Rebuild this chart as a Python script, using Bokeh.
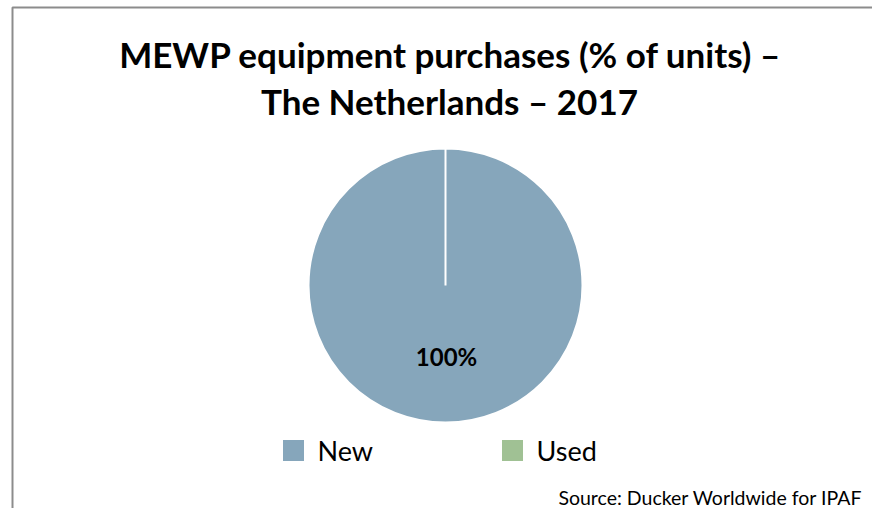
import math
from bokeh.plotting import figure
from bokeh.models import Range1d, ColumnDataSource
from bokeh.core.properties import value
from bokeh.embed import file_html
from bokeh.resources import INLINE

# ---- data ----
categories = ["New", "Used"]
shares = [100, 0]
colors = ["#86A6BB", "#A0C194"]
title_lines = ["MEWP equipment purchases (% of units) \u2013", "The Netherlands \u2013 2017"]
source_note = "Source: Ducker Worldwide for IPAF"

FONT = "Lato"
W, H = 872, 508
TWO_PI = 2 * math.pi

def Y(page_y):
    # convert page pixel y (from top of window) to data y
    return H - page_y

p = figure(width=W, height=H, x_range=Range1d(0, W), y_range=Range1d(0, H),
           output_backend="svg", toolbar_location=None, min_border=0,
           background_fill_color="white", border_fill_color="white")
p.axis.visible = False
p.grid.visible = False
p.outline_line_color = None

# frame (chart area border, cropped at right/bottom)
p.line(x=[12, 12, 880], y=[Y(520), Y(7), Y(7)], line_color="#8C8C8C", line_width=2)

# pie
cx, cy, r = 445, Y(285), 137
total = sum(shares)
starts, ends = [], []
acc = 0
for s in shares:
    a0 = math.pi / 2 - TWO_PI * acc / total
    a1 = a0 - TWO_PI * s / total
    starts.append(a0 % TWO_PI)
    ends.append(a1 % TWO_PI)
    acc += s
keep = [i for i, s in enumerate(shares) if s > 0]
src = ColumnDataSource(dict(cat=[categories[i] for i in keep],
                            color=[colors[i] for i in keep],
                            start=[starts[i] for i in keep],
                            end=[ends[i] for i in keep],
                            x=[cx] * len(keep), y=[cy] * len(keep)))
p.wedge(x="x", y="y", radius=r, start_angle="start", end_angle="end",
        direction="clock", fill_color="color", line_color="white", line_width=2,
        source=src)

# data label (only non-zero slices)
acc = 0
for s in shares:
    if s > 0:
        mid = math.pi / 2 - TWO_PI * (acc + s / 2) / total
        lx = cx + 0.52 * r * math.cos(mid)
        ly = cy + 0.52 * r * math.sin(mid)
        p.text(x=[lx + 1], y=[ly], text=[f"{s}%"], text_font=value(FONT),
               text_font_style="bold", text_font_size="24px",
               text_align="center", text_baseline="middle", text_color="black")
    acc += s

# title
p.text(x=[450, 449], y=[Y(53), Y(100)], text=title_lines, text_font=value(FONT),
       text_font_style="bold", text_font_size="35px", text_align="center",
       text_baseline="middle", text_color="black")

# legend
lx0, lstep, ly = 293, 219, Y(450)
leg_x = [lx0 + i * lstep for i in range(len(categories))]
p.rect(x=leg_x, y=[ly] * len(categories), width=21, height=21,
       fill_color=colors, line_color=None)
p.text(x=[x + 24 for x in leg_x], y=[ly] * len(categories), text=categories,
       text_font=value(FONT), text_font_size="27px", text_align="left",
       text_baseline="middle", text_color="black")

# source note
p.text(x=[862], y=[Y(497)], text=[source_note], text_font=value(FONT),
       text_font_size="19.5px", text_align="right", text_baseline="middle",
       text_color="black")

open("out.html", "w").write(file_html(p, INLINE))
